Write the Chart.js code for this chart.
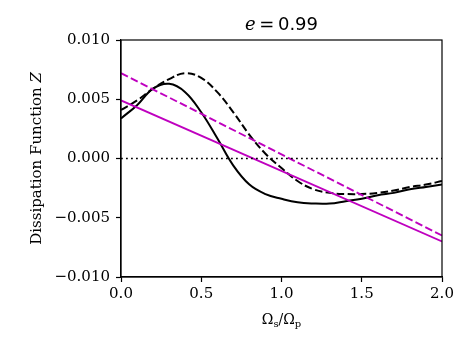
<!DOCTYPE html>
<html>
<head>
<meta charset="utf-8">
<script src="https://cdn.jsdelivr.net/npm/chart.js@4.4.1/dist/chart.umd.min.js"></script>
<style>
  body { margin: 0; background: #fff; }
  canvas { display: block; }
</style>
</head>
<body>
<canvas id="dissChart" width="471" height="347"></canvas>
<script>
// spin ratio grid, Omega_s / Omega_p
const omega = [0, 0.1, 0.2, 0.3, 0.4, 0.5, 0.6, 0.7, 0.8, 0.9, 1.0,
               1.1, 1.2, 1.3, 1.4, 1.5, 1.6, 1.7, 1.8, 1.9, 2.0];
// full model (solid black)
const zFull = [0.00338, 0.0045, 0.0059, 0.0063, 0.0056, 0.0039, 0.0017, -0.0006, -0.0022, -0.0030, -0.0034,
               -0.0037, -0.0038, -0.0038, -0.0036, -0.0034, -0.0031, -0.0029, -0.0026, -0.0024, -0.0022];
// second model (dashed black)
const zAlt = [0.0041, 0.0049, 0.0059, 0.0067, 0.0072, 0.0068, 0.0056, 0.0039, 0.0020, 0.0004, -0.0008,
              -0.0019, -0.0026, -0.0029, -0.0030, -0.0030, -0.0029, -0.0027, -0.0024, -0.0022, -0.0019];
// linear approximations (magenta)
const omegaLin = [0, 2];
const zLinSolid = [0.0049, -0.0070];
const zLinDashed = [0.0072, -0.0065];
const zeroLine = [0, 0];

const yTicks = [-0.01, -0.005, 0, 0.005, 0.01];
const xTicks = [0, 0.5, 1, 1.5, 2];

const pts = (xs, ys) => xs.map((x, i) => ({ x: x, y: ys[i] }));
const MAG = '#bf00bf';
const SERIF = '"DejaVu Serif", serif';

// frame + titles drawn by hand (mixed fonts, subscripts)
const decor = {
    id: 'decor',
    afterDraw(chart) {
        const ctx = chart.ctx;
        const a = chart.chartArea;
        ctx.save();
        ctx.strokeStyle = '#000';
        ctx.lineWidth = 1.2;
        ctx.strokeRect(a.left, a.top, a.right - a.left, a.bottom - a.top);

        ctx.fillStyle = '#000';
        ctx.textBaseline = 'alphabetic';
        const cx = (a.left + a.right) / 2;

        // title: e = 0.99
        const f1 = 'italic 18px ' + SERIF;
        const f2 = '18px "DejaVu Sans", sans-serif';
        ctx.font = f1; const w1 = ctx.measureText('e').width;
        ctx.font = f2; const w2 = ctx.measureText('\u2009=\u20090.99').width;
        let x = cx - (w1 + w2) / 2;
        ctx.textAlign = 'left';
        ctx.font = f1; ctx.fillText('e', x, 30);
        ctx.font = f2; ctx.fillText('\u2009=\u20090.99', x + w1, 30);

        // x label: Omega_s / Omega_p
        const big = '14px ' + SERIF, small = '10px ' + SERIF;
        const parts = [['\u03A9', big, 0], ['s', small, 3], ['/', big, 0], ['\u03A9', big, 0], ['p', small, 3]];
        let tw = 0;
        parts.forEach(p => { ctx.font = p[1]; tw += ctx.measureText(p[0]).width; });
        x = cx - tw / 2;
        parts.forEach(p => {
            ctx.font = p[1];
            ctx.fillText(p[0], x, 324 + p[2]);
            x += ctx.measureText(p[0]).width;
        });

        // y label
        ctx.translate(41, (a.top + a.bottom) / 2);
        ctx.rotate(-Math.PI / 2);
        const t1 = 'Dissipation Function ';
        const fa = '15px ' + SERIF, fb = 'italic 15px ' + SERIF;
        ctx.font = fa; const wa = ctx.measureText(t1).width;
        ctx.font = fb; const wb = ctx.measureText('Z').width;
        ctx.font = fa; ctx.fillText(t1, -(wa + wb) / 2, 0);
        ctx.font = fb; ctx.fillText('Z', -(wa + wb) / 2 + wa, 0);
        ctx.restore();
    }
};

new Chart(document.getElementById('dissChart').getContext('2d'), {
    type: 'line',
    data: {
        datasets: [
            { data: pts(omegaLin, zeroLine), borderColor: '#000', borderWidth: 1.6, borderDash: [1.8, 3.2] },
            { data: pts(omegaLin, zLinSolid), borderColor: MAG, borderWidth: 1.9 },
            { data: pts(omegaLin, zLinDashed), borderColor: MAG, borderWidth: 1.9, borderDash: [7.7, 3.3] },
            { data: pts(omega, zFull), borderColor: '#000', borderWidth: 2, tension: 0.4 },
            { data: pts(omega, zAlt), borderColor: '#000', borderWidth: 2, borderDash: [7.7, 3.3], tension: 0.4 }
        ]
    },
    options: {
        responsive: false,
        animation: false,
        elements: { point: { radius: 0 }, line: { fill: false } },
        layout: { padding: { left: 0, right: 29, top: 40, bottom: 0 } },
        plugins: { legend: { display: false }, tooltip: { enabled: false } },
        scales: {
            x: {
                type: 'linear',
                min: 0, max: 2,
                afterFit(s) { s.height = 70; },
                afterBuildTicks(s) { s.ticks = xTicks.map(v => ({ value: v })); },
                grid: { drawOnChartArea: false, drawTicks: true, tickLength: 5, tickWidth: 1.2, tickColor: '#000' },
                border: { display: true, color: '#000', width: 1.2 },
                ticks: {
                    color: '#000', padding: 3, maxRotation: 0,
                    font: { family: SERIF, size: 15 },
                    callback: v => v.toFixed(1)
                }
            },
            y: {
                type: 'linear',
                min: -0.01, max: 0.01,
                afterFit(s) { s.width = 121; },
                afterBuildTicks(s) { s.ticks = yTicks.map(v => ({ value: v })); },
                grid: { drawOnChartArea: false, drawTicks: true, tickLength: 5, tickWidth: 1.2, tickColor: '#000' },
                border: { display: true, color: '#000', width: 1.2 },
                ticks: {
                    color: '#000', padding: 6,
                    font: { family: SERIF, size: 15 },
                    callback: v => (v < 0 ? '\u2212' : '') + Math.abs(v).toFixed(3)
                }
            }
        }
    },
    plugins: [decor]
});
</script>
</body>
</html>
